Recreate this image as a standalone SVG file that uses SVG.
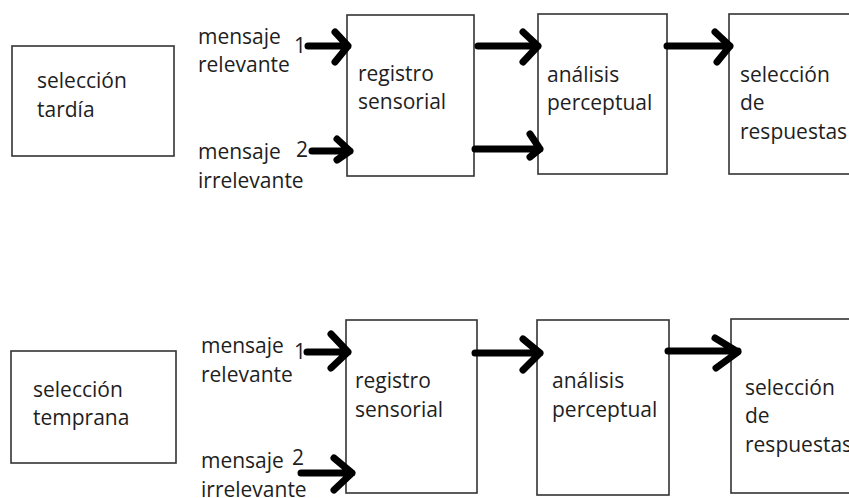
<svg xmlns="http://www.w3.org/2000/svg" width="849" height="498" viewBox="0 0 849 498">
<style>
.box{fill:#fff;stroke:#333;stroke-width:1.6}
.t{font-family:"Open Sans","Liberation Sans",sans-serif;font-size:21px;fill:#1e1e1e}
.arr{fill:none;stroke:#000;stroke-width:7;stroke-linecap:round;stroke-linejoin:round}
</style>
<rect width="849" height="498" fill="#fff"/>
<g id="top-label"><rect class="box" x="12" y="46" width="162" height="110"/><text class="t" x="37" y="88">selección</text><text class="t" x="37" y="117">tardía</text></g>
<g id="top-msg1"><text class="t" x="198" y="44">mensaje</text><text class="t" x="198" y="72">relevante</text><text class="t" x="294" y="53">1</text></g>
<g id="top-msg2"><text class="t" x="198" y="159">mensaje</text><text class="t" x="198" y="188">irrelevante</text><text class="t" x="296" y="157">2</text></g>
<g id="top-reg"><rect class="box" x="347" y="15" width="127" height="161"/><text class="t" x="358" y="81">registro</text><text class="t" x="358" y="109">sensorial</text></g>
<g id="top-ana"><rect class="box" x="538" y="14" width="129" height="160"/><text class="t" x="547" y="82">análisis</text><text class="t" x="547" y="110">perceptual</text></g>
<g id="top-sel"><rect class="box" x="729" y="14" width="130" height="160"/><text class="t" x="740" y="82">selección</text><text class="t" x="740" y="110">de</text><text class="t" x="740" y="139">respuestas</text></g>
<g id="bot-label"><rect class="box" x="11" y="351" width="165" height="112"/><text class="t" x="33" y="397">selección</text><text class="t" x="33" y="425">temprana</text></g>
<g id="bot-msg1"><text class="t" x="201" y="353">mensaje</text><text class="t" x="201" y="382">relevante</text><text class="t" x="294" y="359">1</text></g>
<g id="bot-msg2"><text class="t" x="201" y="468">mensaje</text><text class="t" x="201" y="497">irrelevante</text><text class="t" x="292" y="465">2</text></g>
<g id="bot-reg"><rect class="box" x="346" y="320" width="131" height="173"/><text class="t" x="355" y="388">registro</text><text class="t" x="355" y="417">sensorial</text></g>
<g id="bot-ana"><rect class="box" x="537" y="320" width="132" height="175"/><text class="t" x="552" y="388">análisis</text><text class="t" x="552" y="417">perceptual</text></g>
<g id="bot-sel"><rect class="box" x="731" y="319" width="130" height="174"/><text class="t" x="745" y="395">selección</text><text class="t" x="745" y="423">de</text><text class="t" x="745" y="452">respuestas</text></g>
<g id="connectors">
<path class="arr" d="M308 46H348M335 32L348 46L335 62"/>
<path class="arr" d="M312 151H350M337 139L350 151L337 160"/>
<path class="arr" d="M478 46H538M523 32L538 46L523 62"/>
<path class="arr" d="M475 149H540M530 134L540 149L530 157"/>
<path class="arr" d="M667 46H730M715 32L730 46L717 62"/>
<path class="arr" d="M307 352H348M331 334L348 352L331 368"/>
<path class="arr" d="M301 473H352M334 458L352 473L334 490"/>
<path class="arr" d="M475 353H540M523 339L540 353L523 370"/>
<path class="arr" d="M668 351H738M715 338L738 352L716 368"/>
</g>
</svg>
